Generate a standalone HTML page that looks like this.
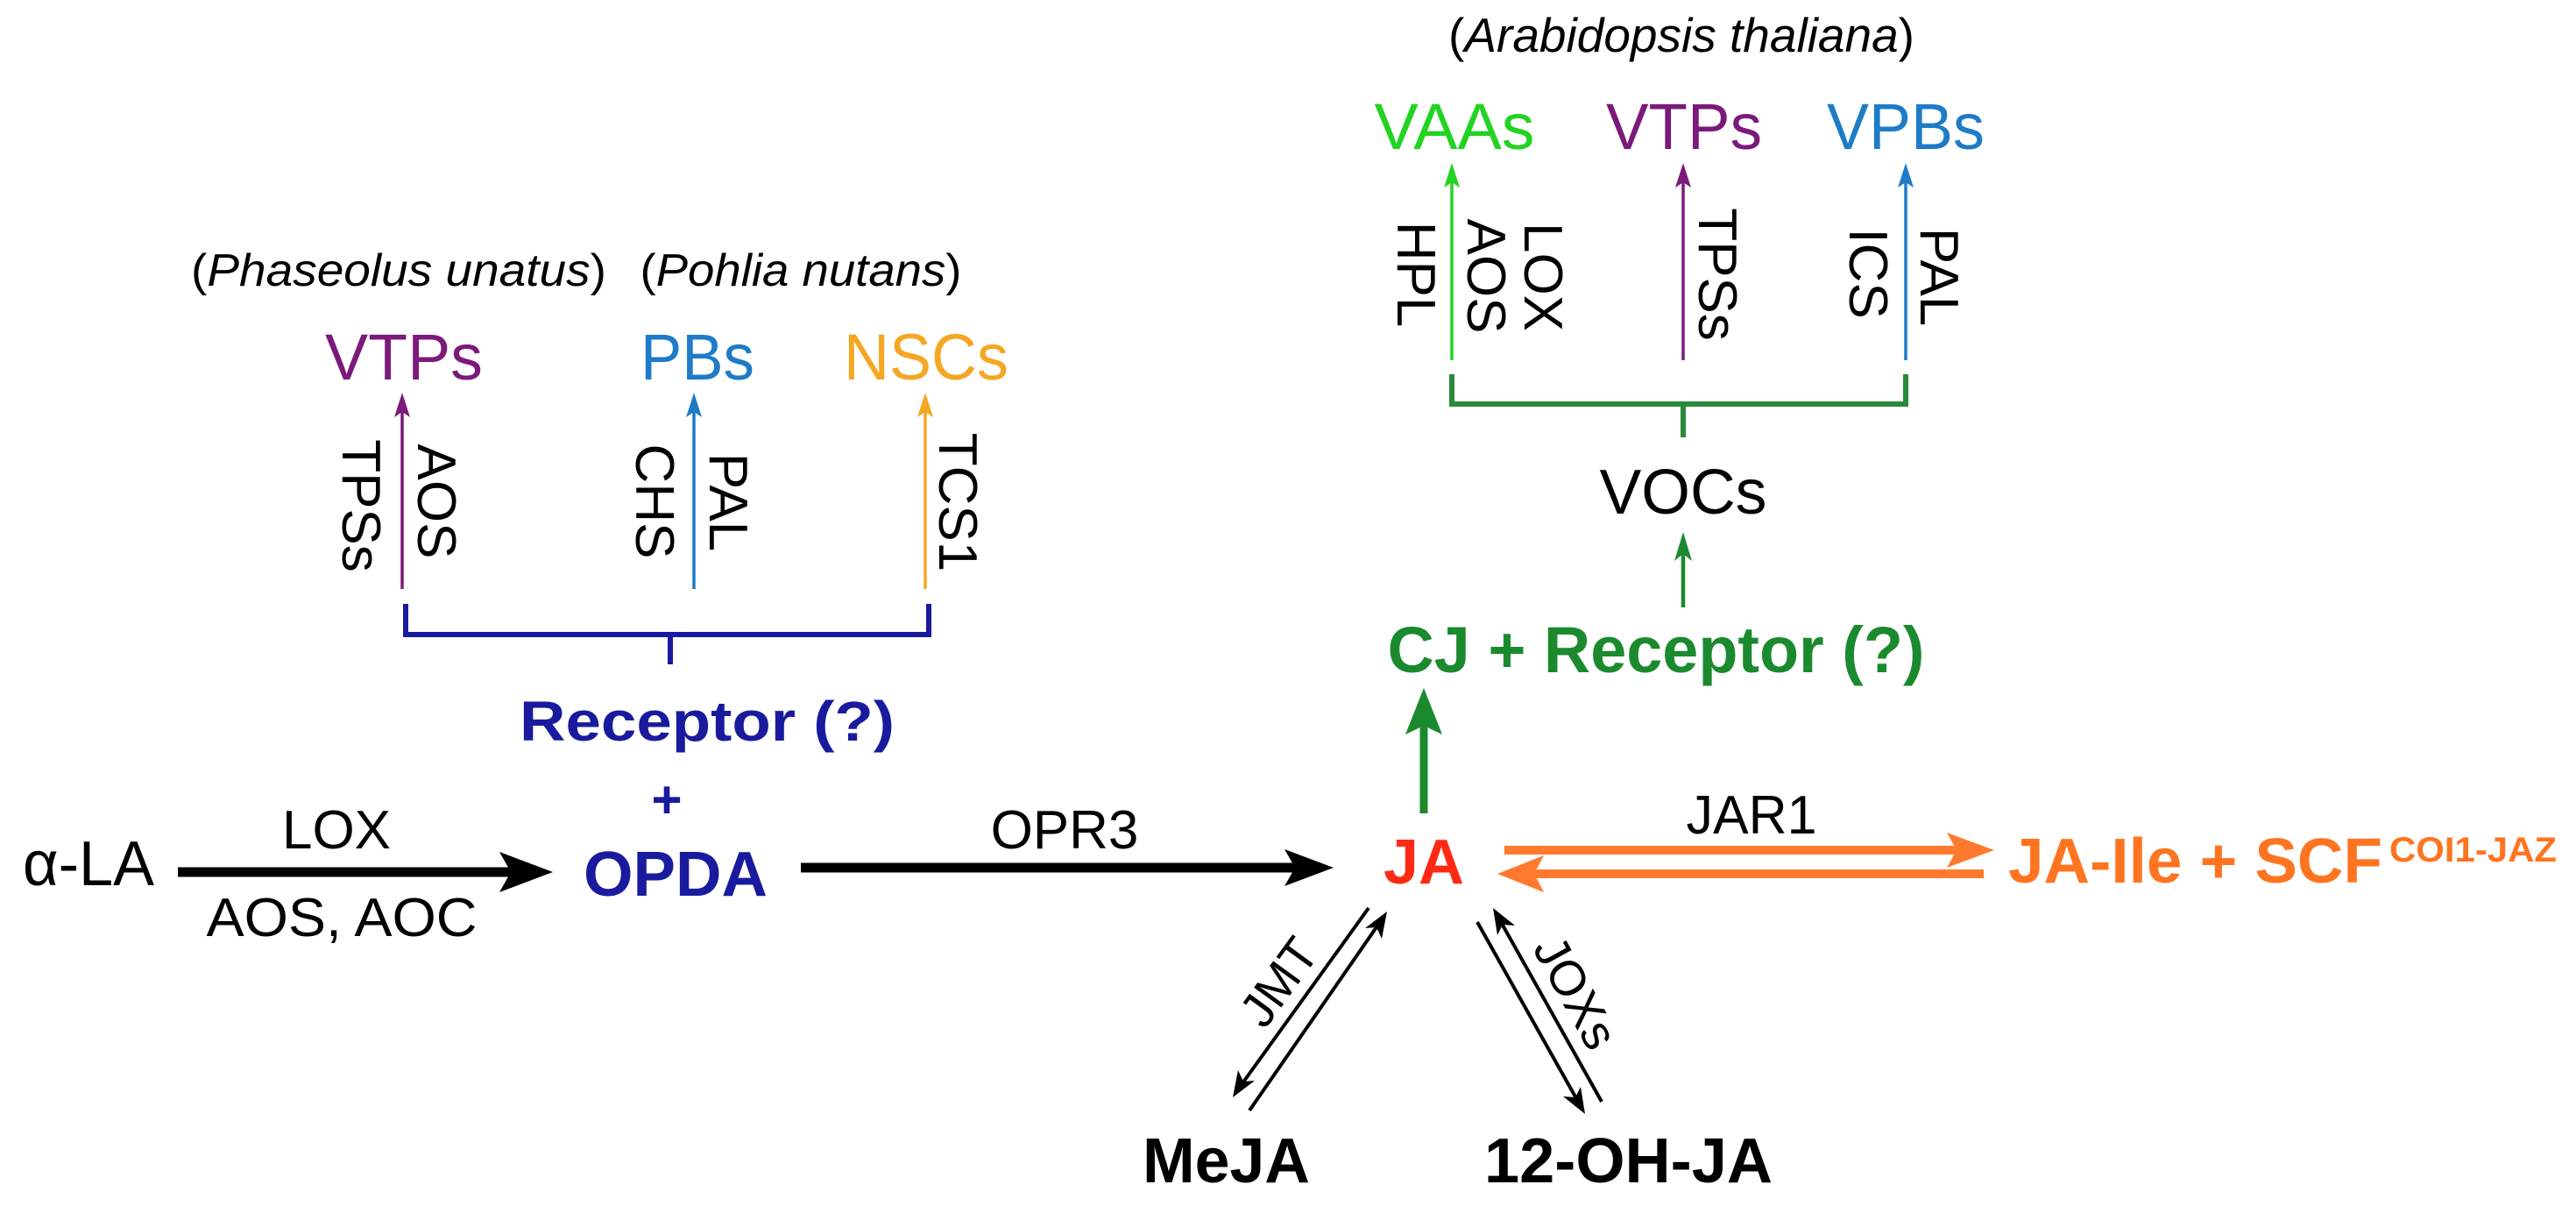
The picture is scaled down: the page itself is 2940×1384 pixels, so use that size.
<!DOCTYPE html>
<html><head><meta charset="utf-8">
<style>
html,body{margin:0;padding:0;background:#fff;}
svg{display:block;}
text{font-family:"Liberation Sans",Arial,sans-serif;}
.b{font-weight:bold;}
</style></head>
<body>
<svg width="2940" height="1384" viewBox="0 0 2940 1384" xmlns="http://www.w3.org/2000/svg">
<rect width="2940" height="1384" fill="#fff"/>

<!-- LEFT: alpha-LA -> OPDA -->
<text x="26" y="1010" font-size="72" textLength="150" lengthAdjust="spacingAndGlyphs">α-LA</text>
<line x1="203" y1="995" x2="585" y2="995" stroke="#000" stroke-width="11"/>
<polygon points="631,995 570,972 583,995 570,1018" fill="#000"/>
<text x="384" y="968" font-size="62" text-anchor="middle">LOX</text>
<text x="390" y="1068" font-size="62" text-anchor="middle" textLength="309" lengthAdjust="spacingAndGlyphs">AOS, AOC</text>

<text x="771" y="1022" font-size="72" class="b" fill="#1a1a9e" text-anchor="middle" textLength="210" lengthAdjust="spacingAndGlyphs">OPDA</text>
<text x="761" y="933" font-size="60" class="b" fill="#1a1a9e" text-anchor="middle">+</text>
<text x="807" y="845" font-size="64" class="b" fill="#1a1a9e" text-anchor="middle" textLength="428" lengthAdjust="spacingAndGlyphs">Receptor (?)</text>

<!-- blue bracket -->
<path d="M463,689 V724 H1060 V689 M765,724 V758" fill="none" stroke="#1a1a9e" stroke-width="6"/>

<!-- left colored arrows -->
<line x1="459" y1="672" x2="459" y2="470" stroke="#7b1a7b" stroke-width="3.5"/>
<polygon points="459,448 450,476 459,470 468,476" fill="#7b1a7b"/>
<line x1="792" y1="672" x2="792" y2="470" stroke="#1e7bc8" stroke-width="3.5"/>
<polygon points="792,448 783,476 792,470 801,476" fill="#1e7bc8"/>
<line x1="1056" y1="672" x2="1056" y2="470" stroke="#f5a623" stroke-width="3.5"/>
<polygon points="1056,448 1047,476 1056,470 1065,476" fill="#f5a623"/>

<g font-size="62">
<text transform="translate(413,577) rotate(90)" text-anchor="middle" dy="22">TPSs</text>
<text transform="translate(499,572) rotate(90)" text-anchor="middle" dy="22">AOS</text>
<text transform="translate(748,572) rotate(90)" text-anchor="middle" dy="22">CHS</text>
<text transform="translate(832,573) rotate(90)" text-anchor="middle" dy="22">PAL</text>
<text transform="translate(1094,573) rotate(90)" text-anchor="middle" dy="22">TCS1</text>
</g>

<text x="455" y="326" font-size="52" text-anchor="middle" textLength="474" lengthAdjust="spacingAndGlyphs">(<tspan font-style="italic">Phaseolus unatus</tspan>)</text>
<text x="914" y="326" font-size="52" text-anchor="middle" textLength="367" lengthAdjust="spacingAndGlyphs">(<tspan font-style="italic">Pohlia nutans</tspan>)</text>

<text x="461" y="433" font-size="74" fill="#7b1a7b" text-anchor="middle" textLength="180" lengthAdjust="spacingAndGlyphs">VTPs</text>
<text x="796" y="433" font-size="74" fill="#1e7bc8" text-anchor="middle" textLength="130" lengthAdjust="spacingAndGlyphs">PBs</text>
<text x="1057" y="433" font-size="74" fill="#f5a623" text-anchor="middle" textLength="188" lengthAdjust="spacingAndGlyphs">NSCs</text>

<!-- OPR3 arrow -->
<line x1="914" y1="990" x2="1480" y2="990" stroke="#000" stroke-width="11"/>
<polygon points="1522,990 1466,969 1478,990 1466,1011" fill="#000"/>
<text x="1215" y="968" font-size="62" text-anchor="middle">OPR3</text>

<!-- RIGHT TOP -->
<text x="1919" y="59" font-size="55" text-anchor="middle" textLength="532" lengthAdjust="spacingAndGlyphs">(<tspan font-style="italic">Arabidopsis thaliana</tspan>)</text>
<text x="1660" y="170" font-size="74" fill="#22d322" text-anchor="middle" textLength="183" lengthAdjust="spacingAndGlyphs">VAAs</text>
<text x="1922" y="170" font-size="74" fill="#7b1a7b" text-anchor="middle" textLength="178" lengthAdjust="spacingAndGlyphs">VTPs</text>
<text x="2175" y="170" font-size="74" fill="#1e7bc8" text-anchor="middle" textLength="180" lengthAdjust="spacingAndGlyphs">VPBs</text>

<line x1="1657" y1="411" x2="1657" y2="208" stroke="#22d322" stroke-width="3.5"/>
<polygon points="1657,186 1648,214 1657,208 1666,214" fill="#22d322"/>
<line x1="1921" y1="411" x2="1921" y2="208" stroke="#7b1a7b" stroke-width="3.5"/>
<polygon points="1921,186 1912,214 1921,208 1930,214" fill="#7b1a7b"/>
<line x1="2175" y1="411" x2="2175" y2="208" stroke="#1e7bc8" stroke-width="3.5"/>
<polygon points="2175,186 2166,214 2175,208 2184,214" fill="#1e7bc8"/>

<g font-size="62">
<text transform="translate(1617,313) rotate(90)" text-anchor="middle" dy="22">HPL</text>
<text transform="translate(1697,315) rotate(90)" text-anchor="middle" dy="22">AOS</text>
<text transform="translate(1762,316) rotate(90)" text-anchor="middle" dy="22">LOX</text>
<text transform="translate(1961,313) rotate(90)" text-anchor="middle" dy="22">TPSs</text>
<text transform="translate(2133,312) rotate(90)" text-anchor="middle" dy="22">ICS</text>
<text transform="translate(2214,316) rotate(90)" text-anchor="middle" dy="22">PAL</text>
</g>

<path d="M1657,427 V461 H2175 V427 M1921,461 V499" fill="none" stroke="#2a8a3a" stroke-width="6"/>

<text x="1921" y="586" font-size="72" text-anchor="middle" textLength="191" lengthAdjust="spacingAndGlyphs">VOCs</text>
<line x1="1921" y1="693" x2="1921" y2="625" stroke="#1b8a2e" stroke-width="4.5"/>
<polygon points="1921,607 1911,640 1921,632 1931,640" fill="#1b8a2e"/>

<text x="1890" y="767" font-size="74" class="b" fill="#1b8a2e" text-anchor="middle" textLength="613" lengthAdjust="spacingAndGlyphs">CJ + Receptor (?)</text>

<line x1="1625" y1="928" x2="1625" y2="820" stroke="#1b8a2e" stroke-width="9"/>
<polygon points="1625,785 1604,838 1625,828 1646,838" fill="#1b8a2e"/>

<!-- JA -->
<text x="1625" y="1008" font-size="72" class="b" fill="#ff2a14" text-anchor="middle" textLength="92" lengthAdjust="spacingAndGlyphs">JA</text>

<!-- orange arrows -->
<line x1="1717" y1="970" x2="2236" y2="970" stroke="#ff7a2e" stroke-width="10"/>
<polygon points="2276,970 2222,950 2233,970 2222,990" fill="#ff7a2e"/>
<line x1="2264" y1="997" x2="1748" y2="997" stroke="#ff7a2e" stroke-width="10"/>
<polygon points="1709,997 1762,976 1751,997 1762,1018" fill="#ff7a2e"/>
<text x="1999" y="951" font-size="62" text-anchor="middle" textLength="149" lengthAdjust="spacingAndGlyphs">JAR1</text>

<text x="2292" y="1007" font-size="72" class="b" fill="#ff7420" textLength="427" lengthAdjust="spacingAndGlyphs">JA-Ile + SCF</text>
<text x="2727" y="983" font-size="40" class="b" fill="#ff7420" textLength="191" lengthAdjust="spacingAndGlyphs">COI1-JAZ</text>

<!-- JMT -->
<line x1="1562" y1="1036" x2="1418" y2="1236" stroke="#000" stroke-width="4"/>
<polygon points="1407,1252 1413,1221 1419,1234 1432,1233" fill="#000"/>
<line x1="1426" y1="1267" x2="1573" y2="1055" stroke="#000" stroke-width="4"/>
<polygon points="1583,1040 1577,1071 1571,1058 1558,1059" fill="#000"/>
<text transform="translate(1459,1120) rotate(-54)" font-size="56" text-anchor="middle" dy="20">JMT</text>

<!-- JOXs -->
<line x1="1686" y1="1052" x2="1800" y2="1255" stroke="#000" stroke-width="4"/>
<polygon points="1809,1271 1784,1251 1798,1252 1804,1240" fill="#000"/>
<line x1="1828" y1="1257" x2="1713" y2="1052" stroke="#000" stroke-width="4"/>
<polygon points="1704,1036 1729,1056 1715,1055 1709,1067" fill="#000"/>
<text transform="translate(1799,1132) rotate(61)" font-size="56" text-anchor="middle" dy="20">JOXs</text>

<text x="1304" y="1349" font-size="72" class="b" textLength="191" lengthAdjust="spacingAndGlyphs">MeJA</text>
<text x="1694" y="1349" font-size="72" class="b" textLength="329" lengthAdjust="spacingAndGlyphs">12-OH-JA</text>
</svg>
</body></html>
